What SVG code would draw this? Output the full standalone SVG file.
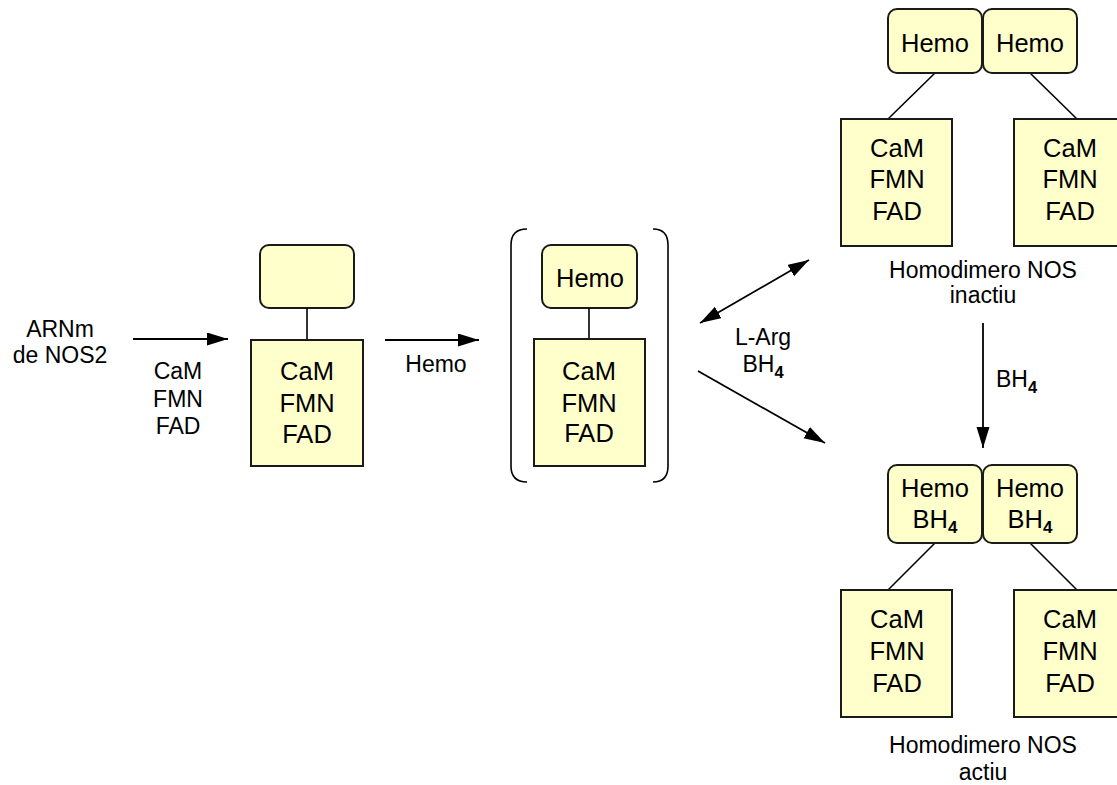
<svg xmlns="http://www.w3.org/2000/svg" width="1117" height="785" viewBox="0 0 1117 785">
  <style>
    .box { fill: #ffffcc; stroke: #1a1a1a; stroke-width: 2; }
    .link { stroke: #000; stroke-width: 1.6; fill: none; }
    .arrow { stroke: #000; stroke-width: 1.8; fill: none; }
    .bt { font-family: "Liberation Sans", Arial, sans-serif; font-size: 25.5px; fill: #000; text-anchor: middle; }
    .lb { font-family: "Liberation Sans", Arial, sans-serif; font-size: 23px; fill: #000; text-anchor: middle; }
    .sub { font-size: 16.5px; font-weight: bold; }
  </style>
  <defs>
    <marker id="head" markerUnits="userSpaceOnUse" markerWidth="22" markerHeight="14" refX="21" refY="6.5" orient="auto-start-reverse">
      <path d="M0,0 L21,6.5 L0,13 z" fill="#000"/>
    </marker>
  </defs>
  <rect width="1117" height="785" fill="#fff"/>

  <!-- connectors -->
  <g id="connectors">
    <line class="arrow" x1="133" y1="339" x2="228" y2="339" marker-end="url(#head)"/>
    <line class="arrow" x1="385" y1="340" x2="479" y2="340" marker-end="url(#head)"/>
    <line class="arrow" x1="700" y1="323" x2="809" y2="260" marker-start="url(#head)" marker-end="url(#head)"/>
    <line class="arrow" x1="698" y1="371" x2="825" y2="443" marker-end="url(#head)"/>
    <line class="arrow" x1="983" y1="323" x2="983" y2="448" marker-end="url(#head)"/>
  </g>

  <!-- reaction labels -->
  <g id="labels">
    <text class="lb" x="60" y="337">ARNm</text>
    <text class="lb" x="60" y="363">de NOS2</text>
    <text class="lb" x="178" y="379">CaM</text>
    <text class="lb" x="178" y="407">FMN</text>
    <text class="lb" x="178" y="434">FAD</text>
    <text class="lb" x="436" y="372">Hemo</text>
    <text class="lb" x="763" y="345">L-Arg</text>
    <text class="lb" x="763" y="372">BH<tspan class="sub" dy="6">4</tspan></text>
    <text class="lb" x="996" y="387" style="text-anchor:start">BH<tspan class="sub" dy="6">4</tspan></text>
  </g>

  <!-- monomer without heme -->
  <g id="monomer">
    <rect class="box" x="260" y="245" width="94" height="63" rx="9"/>
    <line class="link" x1="307" y1="308" x2="307" y2="340"/>
    <rect class="box" x="251" y="340" width="112" height="126"/>
    <text class="bt" x="307" y="380">CaM</text>
    <text class="bt" x="307" y="412">FMN</text>
    <text class="bt" x="307" y="443">FAD</text>
  </g>

  <!-- monomer with heme, bracketed -->
  <g id="monomer-hemo">
    <path class="link" d="M527,229 Q511,229 511,245 L511,466 Q511,482 527,482"/>
    <path class="link" d="M653,229 Q668,229 668,245 L668,466 Q668,482 653,482"/>
    <rect class="box" x="542" y="245" width="95" height="63" rx="9"/>
    <text class="bt" x="590" y="287">Hemo</text>
    <line class="link" x1="589" y1="308" x2="589" y2="339"/>
    <rect class="box" x="534" y="339" width="111" height="127"/>
    <text class="bt" x="589" y="380">CaM</text>
    <text class="bt" x="589" y="412">FMN</text>
    <text class="bt" x="589" y="442">FAD</text>
  </g>

  <!-- inactive homodimer -->
  <g id="dimer-inactive">
    <line class="link" x1="935" y1="73" x2="888" y2="119"/>
    <line class="link" x1="1030" y1="73" x2="1077" y2="119"/>
    <rect class="box" x="888" y="9" width="94" height="64" rx="9"/>
    <rect class="box" x="983" y="9" width="94" height="64" rx="9"/>
    <text class="bt" x="935" y="52">Hemo</text>
    <text class="bt" x="1030" y="52">Hemo</text>
    <rect class="box" x="841" y="119" width="111" height="127"/>
    <rect class="box" x="1014" y="119" width="111" height="127"/>
    <text class="bt" x="897" y="157">CaM</text>
    <text class="bt" x="897" y="188">FMN</text>
    <text class="bt" x="897" y="220">FAD</text>
    <text class="bt" x="1070" y="157">CaM</text>
    <text class="bt" x="1070" y="188">FMN</text>
    <text class="bt" x="1070" y="220">FAD</text>
    <text class="lb" x="983" y="278">Homodimero NOS</text>
    <text class="lb" x="983" y="303">inactiu</text>
  </g>

  <!-- active homodimer -->
  <g id="dimer-active">
    <line class="link" x1="935" y1="543" x2="888" y2="590"/>
    <line class="link" x1="1030" y1="543" x2="1077" y2="590"/>
    <rect class="box" x="888" y="465" width="94" height="78" rx="9"/>
    <rect class="box" x="983" y="465" width="94" height="78" rx="9"/>
    <text class="bt" x="935" y="497">Hemo</text>
    <text class="bt" x="935" y="528">BH<tspan class="sub" dy="5" style="font-size:17px">4</tspan></text>
    <text class="bt" x="1030" y="497">Hemo</text>
    <text class="bt" x="1030" y="528">BH<tspan class="sub" dy="5" style="font-size:17px">4</tspan></text>
    <rect class="box" x="841" y="590" width="111" height="127"/>
    <rect class="box" x="1014" y="590" width="111" height="127"/>
    <text class="bt" x="897" y="628">CaM</text>
    <text class="bt" x="897" y="660">FMN</text>
    <text class="bt" x="897" y="692">FAD</text>
    <text class="bt" x="1070" y="628">CaM</text>
    <text class="bt" x="1070" y="660">FMN</text>
    <text class="bt" x="1070" y="692">FAD</text>
    <text class="lb" x="983" y="753">Homodimero NOS</text>
    <text class="lb" x="983" y="780">actiu</text>
  </g>
</svg>
